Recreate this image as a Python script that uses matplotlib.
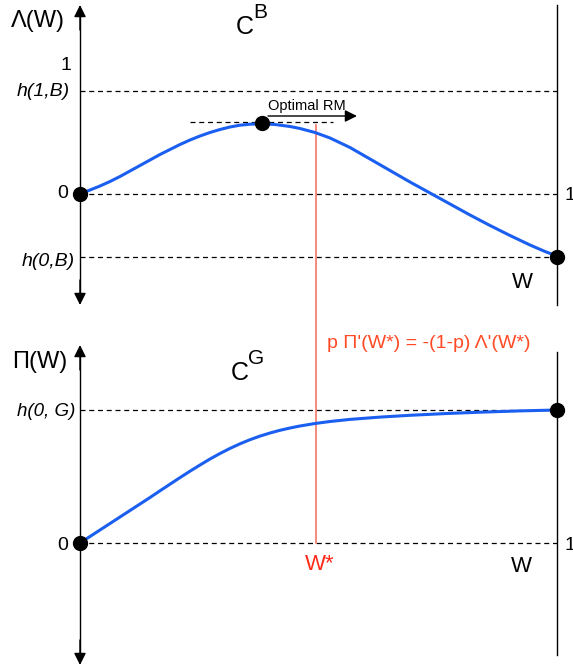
import matplotlib.pyplot as plt
import numpy as np

plt.rcParams['font.family'] = ['Liberation Sans', 'DejaVu Sans']

# diagram coordinates (pixel-like, y grows downward)
x_left, x_right = 80, 557

# top panel: Lambda(W) for bad type
top_zero, top_h1B, top_h0B = 194, 91, 257
top_x = [80, 90, 100, 110, 120, 130, 140, 150, 160, 170, 180, 190, 200, 210, 220, 230,
         240, 250, 262, 275, 290, 300, 315, 330, 350, 370, 390, 410, 430, 450, 470, 490,
         510, 530, 545, 557]
top_y = [194, 190, 186, 181.5, 176.5, 171, 165.5, 160, 154.5, 149.5, 144.5, 140, 136,
         132.5, 129.5, 127, 125.2, 124.2, 123.8, 124.5, 126.5, 128.5, 132.5, 138, 147.5,
         159, 170.5, 182, 193, 204, 215, 225.5, 235.5, 245, 251.5, 256]

# bottom panel: Pi(W) for good type
bot_zero, bot_h0G = 543, 410
bot_x = [80, 90, 100, 110, 120, 130, 140, 150, 160, 170, 180, 190, 200, 210, 220, 230,
         240, 250, 260, 270, 280, 290, 300, 315, 330, 350, 380, 410, 447, 480, 520, 557]
bot_y = [543, 536.5, 530, 523.5, 517, 510.5, 504, 497.5, 490.8, 484.2, 477.6, 471.2,
         465, 459, 453.5, 448.4, 443.8, 439.7, 436.1, 433, 430.3, 428, 426, 423.5, 421.5,
         419.4, 417.1, 415.3, 413.5, 412.2, 410.9, 410]

w_star = 316
peak = (262, 123)

fig = plt.figure(figsize=(5.73, 6.68), dpi=100)
ax = fig.add_axes([0, 0, 1, 1])
ax.set_xlim(0, 573)
ax.set_ylim(668, 0)
ax.axis('off')

dash = dict(color='black', lw=0.9, ls=(0, (4, 3)))
arrow = dict(arrowstyle='-|>', color='black', lw=1.0, mutation_scale=18,
             shrinkA=0, shrinkB=0)

# axes of the top panel
ax.plot([x_left, x_left], [12, 298], color='black', lw=1.0)
ax.annotate('', xy=(x_left, 5), xytext=(x_left, 30), arrowprops=arrow)
ax.annotate('', xy=(x_left, 305), xytext=(x_left, 280), arrowprops=arrow)
ax.plot([x_right, x_right], [5, 305], color='black', lw=1.0)

# axes of the bottom panel
ax.plot([x_left, x_left], [352, 658], color='black', lw=1.0)
ax.annotate('', xy=(x_left, 345), xytext=(x_left, 370), arrowprops=arrow)
ax.annotate('', xy=(x_left, 665), xytext=(x_left, 640), arrowprops=arrow)
ax.plot([x_right, x_right], [352, 655], color='black', lw=1.0)

# dashed reference levels
for yy in [top_h1B, top_zero, top_h0B, bot_h0G, bot_zero]:
    ax.plot([x_left, x_right], [yy, yy], **dash)

# optimal RM
ax.plot([190, 333], [122, 122], **dash)
ax.annotate('', xy=(357, 116), xytext=(268, 116), arrowprops=arrow)
ax.text(268, 106, 'Optimal RM', fontsize=10.5, ha='left', va='center')

# red W* line
ax.plot([w_star, w_star], [125, bot_zero], color='#f46a5a', lw=1.1)

# curves
ax.plot(top_x, top_y, color='#1a5ff0', lw=2.2, solid_capstyle='round',
        solid_joinstyle='round')
ax.plot(bot_x, bot_y, color='#1a5ff0', lw=2.2, solid_capstyle='round',
        solid_joinstyle='round')

# dots
dots_x = [x_left, peak[0], x_right, x_right, x_left]
dots_y = [top_zero, peak[1], top_h0B, bot_h0G, bot_zero]
ax.plot(dots_x, dots_y, 'o', color='black', ms=10, zorder=5)

# labels
ax.text(11, 21, 'Λ(W)', fontsize=17, va='center')
ax.text(12, 362, 'Π(W)', fontsize=17, va='center')
ax.text(236, 27, 'C', fontsize=18, va='center')
ax.text(253, 13, 'B', fontsize=15, va='center')
ax.text(231, 373, 'C', fontsize=18, va='center')
ax.text(248, 358, 'G', fontsize=15, va='center')

ax.text(71, 65, '1', fontsize=14, ha='right', va='center')
ax.text(70, 91, 'h(1,B)', fontsize=14, style='italic', ha='right', va='center')
ax.text(68, 194, '0', fontsize=14, ha='right', va='center')
ax.text(75, 262, 'h(0,B)', fontsize=14, style='italic', ha='right', va='center')
ax.text(75, 411, 'h(0, G)', fontsize=13.5, style='italic', ha='right', va='center')
ax.text(68, 545, '0', fontsize=14, ha='right', va='center')

# right-hand "1" labels sit at the edge as in the original
ax.text(565, 195, '1', fontsize=14, va='center')
ax.text(565, 545, '1', fontsize=14, va='center')
ax.text(522, 283, 'W', fontsize=16, ha='center', va='center')
ax.text(521, 566, 'W', fontsize=16, ha='center', va='center')

ax.text(327, 343, "p Π'(W*) = -(1-p) Λ'(W*)", fontsize=14, color='#ff4a26', va='center')
ax.text(320, 564, 'W*', fontsize=16, color='#ff2a1a', ha='center', va='center')

fig.savefig('out.png', dpi=100)
